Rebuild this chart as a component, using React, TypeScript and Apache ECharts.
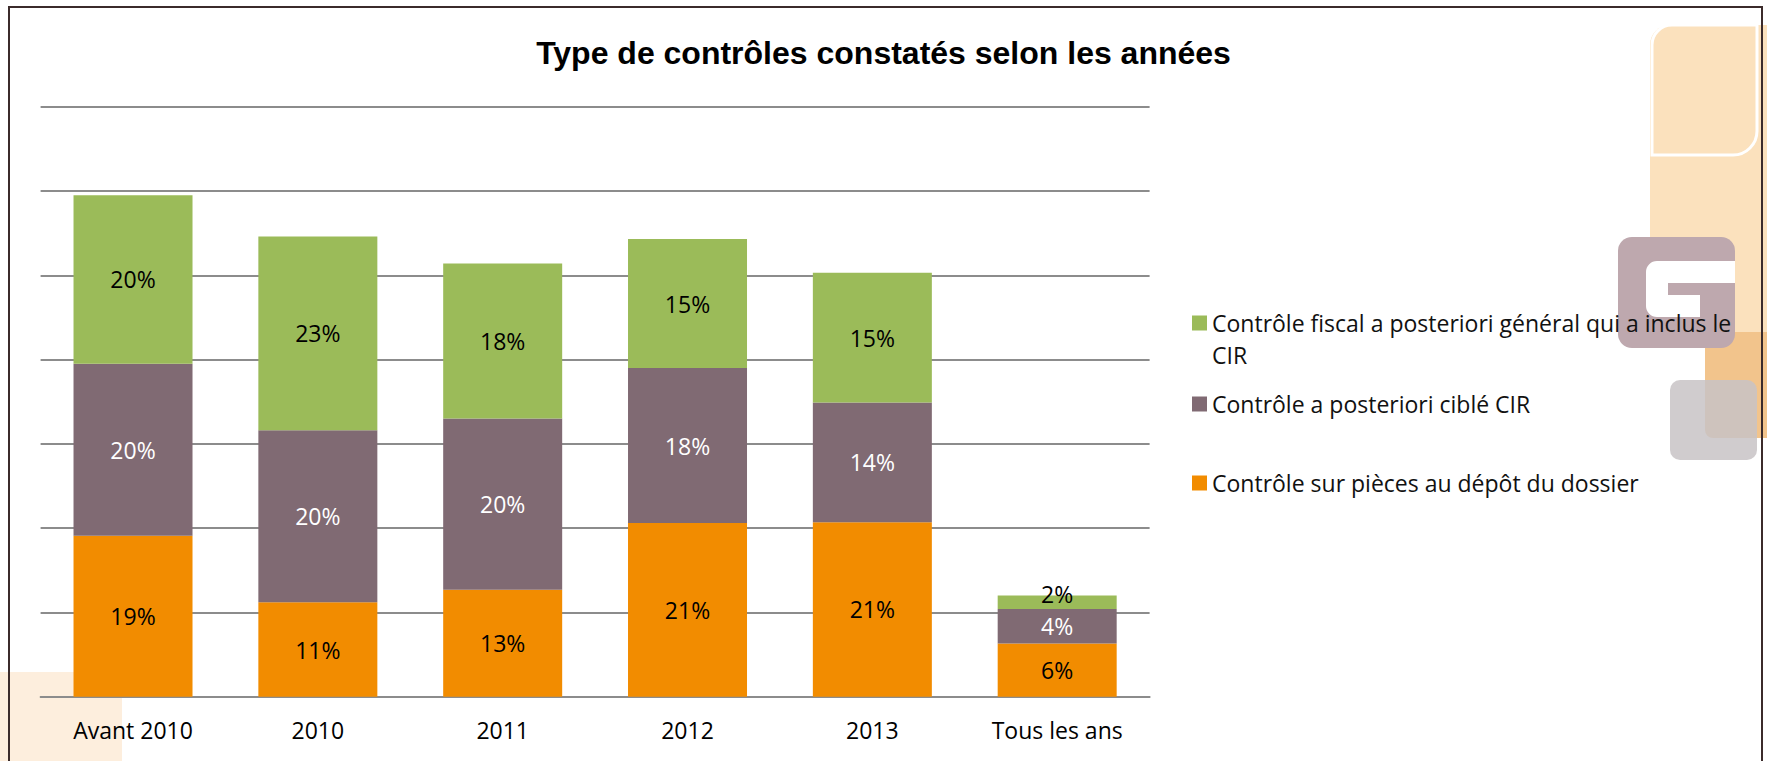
import React, { useEffect, useRef } from "react";
import * as echarts from "echarts";

const TITLE = "Type de contrôles constatés selon les années";
const categories = ["Avant 2010", "2010", "2011", "2012", "2013", "Tous les ans"];
const seriesNames = [
  "Contrôle sur pièces au dépôt du dossier",
  "Contrôle a posteriori ciblé CIR",
  "Contrôle fiscal a posteriori général qui a inclus le CIR",
];
const surPieces = [19.1, 11.2, 12.7, 20.6, 20.7, 6.3];
const cibleCIR = [20.4, 20.4, 20.3, 18.4, 14.2, 4.1];
const fiscalGeneral = [20.0, 23.0, 18.4, 15.3, 15.4, 1.6];

const colors = ["#F28C00", "#806A73", "#9BBB59"];
const FONT = "'Open Sans', 'Noto Sans', sans-serif";

export default function App() {
  const ref = useRef<HTMLDivElement>(null);
  useEffect(() => {
    if (!ref.current) return;
    const chart = echarts.init(ref.current, null, { renderer: "svg" });
    const fmt = (p: any) => Math.round(p.value) + "%";
    const mkSeries = (i: number, data: any[], labelColor: string) => ({
      name: seriesNames[i],
      type: "bar",
      stack: "total",
      barWidth: 119,
      data,
      itemStyle: { color: colors[i] },
      label: {
        show: true,
        position: "inside",
        formatter: fmt,
        color: labelColor,
        fontSize: 23,
        fontFamily: FONT,
      },
    });
    const last = categories.length - 1;
    const greenData = fiscalGeneral.map((v, i) =>
      i === last ? { value: v, label: { offset: [0, -8] } } : v
    );
    const legendBase = {
      orient: "vertical",
      left: 1192,
      padding: 0,
      icon: "rect",
      itemWidth: 15,
      itemHeight: 15,
      selectedMode: false,
    };
    const legendText = { fontFamily: FONT, fontSize: 23, lineHeight: 32, color: "#111" };
    chart.setOption({
      animation: false,
      backgroundColor: "#ffffff",
      title: {
        text: TITLE,
        left: "center",
        top: 34,
        padding: 0,
        textStyle: {
          fontFamily: "'Liberation Sans', Arial, sans-serif",
          fontWeight: "bold",
          fontSize: 32,
          lineHeight: 38,
          color: "#000",
        },
      },
      legend: [
        {
          ...legendBase,
          top: 275,
          data: [seriesNames[2]],
          formatter: () => "\nContrôle fiscal a posteriori général qui a inclus le\nCIR",
          textStyle: legendText,
        },
        {
          ...legendBase,
          top: 388,
          data: [seriesNames[1]],
          textStyle: legendText,
        },
        {
          ...legendBase,
          top: 467,
          data: [seriesNames[0]],
          textStyle: legendText,
        },
      ],
      grid: { left: 40.6, right: 617.4, top: 106.7, bottom: 64.3, containLabel: false },
      xAxis: {
        type: "category",
        data: categories,
        axisLine: { lineStyle: { color: "#8c8c8c", width: 2 } },
        axisTick: { show: false },
        axisLabel: { fontSize: 23, fontFamily: FONT, color: "#000", margin: 22, lineHeight: 23 },
      },
      yAxis: {
        type: "value",
        min: 0,
        max: 70,
        interval: 10,
        axisLabel: { show: false },
        axisLine: { show: false },
        axisTick: { show: false },
        splitLine: { lineStyle: { color: "#8c8c8c", width: 2 } },
      },
      graphic: [
        { type: "rect", z: -10, shape: { x: 0, y: 672, width: 122, height: 95 }, style: { fill: "#fdeedd" } },
        { type: "rect", z: -10, shape: { x: 1650, y: 25, width: 130, height: 310, r: [20, 0, 0, 0] }, style: { fill: "#fbe1bd" } },
        { type: "rect", z: -9, shape: { x: 1652, y: 25, width: 105, height: 130, r: [20, 0, 24, 0] }, style: { fill: "none", stroke: "#ffffff", lineWidth: 3 } },
        { type: "rect", z: -9, shape: { x: 1705, y: 332, width: 70, height: 106, r: 8 }, style: { fill: "#f2c48c" } },
        { type: "rect", z: -8, shape: { x: 1670, y: 380, width: 87, height: 80, r: 10 }, style: { fill: "#c8c3c5", opacity: 0.85 } },
        { type: "rect", z: -8, shape: { x: 1618, y: 237, width: 117, height: 111, r: 14 }, style: { fill: "#bea8ae" } },
        {
          type: "polyline",
          z: -7,
          shape: { points: [[1735, 272], [1657, 272], [1657, 306], [1700, 306]] },
          style: { stroke: "#ffffff", lineWidth: 22, fill: "none", lineJoin: "round", lineCap: "butt" },
        },
        { type: "rect", z: 100, shape: { x: 9, y: 7, width: 1753, height: 800 }, style: { fill: "none", stroke: "#3b2b2b", lineWidth: 2 } },
      ],
      series: [
        mkSeries(0, surPieces, "#000"),
        mkSeries(1, cibleCIR, "#ffffff"),
        mkSeries(2, greenData, "#000"),
      ],
    });
    return () => chart.dispose();
  }, []);
  return <div ref={ref} style={{ position: "fixed", left: 0, top: 0, width: 1767, height: 761 }} />;
}
